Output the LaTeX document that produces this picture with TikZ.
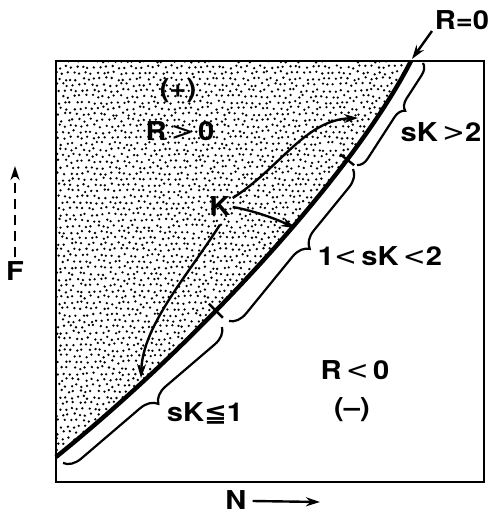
\documentclass[tikz,border=0pt]{standalone}
\usepackage{fontspec}
\setmainfont{TeX Gyre Heros}[FakeStretch=1.12]
\newfontfamily\dejavu{DejaVu Sans}[FakeStretch=1.05]
\usetikzlibrary{arrows.meta,decorations.pathreplacing,calc}
\begin{document}
\begin{tikzpicture}[x=1pt,y=-1pt,
  lab/.style={font=\fontsize{26}{28}\selectfont\bfseries, inner sep=1pt},
  arr/.style={line width=2.4pt,-{Stealth[length=14pt,width=9pt]}},
  bracestyle/.style={line width=2.2pt, decorate}]
\useasboundingbox (0,0) rectangle (492,514);
% R=0 curve geometry
\coordinate (c0) at (56,457);
\coordinate (c4) at (411,61);
\path (c0) .. controls (195,345) and (352,176) .. (c4)
  coordinate[pos=0.38] (x1) coordinate[pos=0.74] (x2);
% stipple
\begin{scope}
  \clip (c0) .. controls (195,345) and (352,176) .. (c4) -- (56,61) -- cycle;
  \pgfmathsetseed{7}
  \foreach \i in {0,...,60} {
    \foreach \j in {0,...,68} {
      \fill ({56+\i*5.9+mod(\j,2)*2.95+rand*1.6},{61+\j*5.9+rand*1.6}) circle (1.3);
    }
  }
\end{scope}
% box
\draw[line width=2.2pt] (56,61) rectangle (484,482);
% curve
\draw[line width=4.4pt] (c0) .. controls (195,345) and (352,176) .. (c4);
% crosses
\draw[line width=2.4pt] ($(x1)+(-7,-7)$) -- ($(x1)+(7,7)$);
\draw[line width=2.4pt] ($(x2)+(-7,-5.5)$) -- ($(x2)+(7,5.5)$);
% braces
\draw[bracestyle, decoration={brace, amplitude=11pt, aspect=0.41}] (423,63) -- (357,165);
\draw[bracestyle, decoration={brace, amplitude=17pt, aspect=0.455}] (353,169) -- (229,321);
\draw[bracestyle, decoration={brace, amplitude=17pt, aspect=0.47}] (222,327) -- (63,463);
% labels
\node[lab] (plus) at (178,91) {(+)};
\node[lab] (rpos) at (180,131) {R\,{\dejavu\mdseries >}\,0};
\node[lab] (K) at (220,206) {K};
\node[lab] (sk2) at (441,132) {sK\,{\dejavu\mdseries >}2};
\node[lab] (sk12) at (380,256) {1{\dejavu\mdseries <}\,sK\,{\dejavu\mdseries <}2};
\node[lab] (rneg) at (355,370) {R\,{\dejavu\mdseries <}\,0};
\node[lab] (minus) at (352,410) {(–)};
\node[lab] (sk1) at (205,413) {sK{\dejavu\bfseries ≦}1};
\node[lab] (r0) at (462,20) {R=0};
\node[lab] (F) at (15,271) {F};
\node[lab] (N) at (236,500) {N};
% R=0 arrow
\coordinate (r0a) at (432,31);
\draw[arr] (r0a) -- (412,59);
% K arrows
\coordinate (t1) at (358,118);
\coordinate (t2) at (295,228);
\coordinate (t3) at (141,378);
\draw[arr] (K.east) ++(1,-8) .. controls (280,168) and (305,120) .. (t1);
\draw[arr] (K.east) ++(1,1) .. controls (250,210) and (272,217) .. (t2);
\draw[arr] (K.south) ++(0,8) .. controls (188,275) and (143,325) .. (t3);
% axis arrows
\coordinate (Ftop) at (15,166);
\coordinate (Nend) at (320,502);
\draw[line width=2.4pt, dash pattern=on 10pt off 6pt, -{Stealth[length=14pt,width=9pt]}] (F.north) ++(0,-3) -- (Ftop);
\draw[arr] (N.east) ++(5,1) -- (Nend);
\end{tikzpicture}
\end{document}
